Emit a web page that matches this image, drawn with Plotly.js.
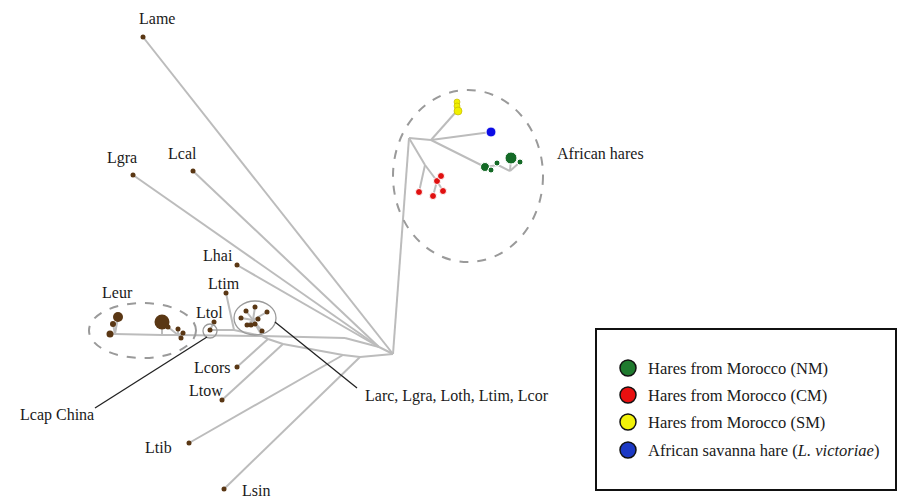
<!DOCTYPE html>
<html>
<head>
<meta charset="utf-8">
<script src="https://cdn.plot.ly/plotly-3.0.1.min.js"></script>
<style>html,body{margin:0;padding:0;background:#fff;}#chart{width:897px;height:498px;}</style>
</head>
<body>
<div id="chart"></div>
<script>
// ---- network nodes (layout coordinates) ----
const nodeNames = ["H","A","B","C","Rj","G1","Gj","Gk","J","P","Q","T","K","L1","L2","L3","R","E1","E2","E3","Yj",
  "Lame","Lgra","Lcal","Lhai","Ltim","Ltol","Lcap","Lcors","Ltow","Ltib","Lsin",
  "eu1","eu2","eu3","eu4","eu5","eu6","eu7","eu8",
  "la1","la2","la3","la4","la5","la6","la7","la8","la9",
  "y1","y2","y3","bl1","g2","g3","g4","g5","r2","r3","r4","r5"];
const nodeX = [393,409,431,425,437,485,498,510,379,345,262,234,253,283,343,360,268,115,162,178,455,
  143,133,193,237,226,214,210,237,222,189,224,
  110,118,113,162,168,178,183,181,
  241,246,255,267,247,251,255,258,262,
  457,457,458,491,491,497,511,520,441,443,433,419];
const nodeY = [354,138,140,165,181,167,165,171,347,338,336,330,320,344,355,357,339,334,335,335,113,
  37,175,171,265,293,322,330,367,400,443,489,
  334,317,324,322,327,329,333,338,
  318,311,307,312,325,325,324,319,331,
  102,106,111,132,170,163,158,162,176,191,196,192];

// ---- edges ----
const edgeFrom = ["H","A","B","Yj","Yj","Yj","B","B","G1","G1","Gj","Gj","Gk","Gk","A","C","C","Rj","Rj","Rj",
  "H","J","P","Q","E3","E2","T","Lcap","Ltim","K","Q","R","L1","L2","L3",
  "Lcors","Ltow","Ltib","Lsin","Lame","Lcal","Lgra","Lhai",
  "E1","E1","E1","E2","E3","E3","E3","E3",
  "K","K","K","K","K","K","K","K","K","Ltol"];
const edgeTo = ["A","B","Yj","y1","y2","y3","bl1","G1","g2","Gj","g3","Gk","g4","g5","C","Rj","r5","r2","r3","r4",
  "J","P","Q","E3","E2","E1","Q","T","T","Q","R","L1","L2","L3","H",
  "R","L1","L2","L3","H","J","J","J",
  "eu1","eu2","eu3","eu4","eu5","eu6","eu7","eu8",
  "la1","la2","la3","la4","la5","la6","la7","la8","la9","Lcap"];

// ---- sampled haplotypes (dots) ----
const dotNodes = ["Lame","Lgra","Lcal","Lhai","Ltim","Ltol","Lcap","Lcors","Ltow","Ltib","Lsin",
  "eu1","eu2","eu3","eu4","eu5","eu6","eu7","eu8",
  "la1","la2","la3","la4","la5","la6","la7","la8","la9"];
const dotSizes = [5,5,5,5,5,5,5,5,5,5,5, 7,10,6,15,5,5,5,5, 5,5,5,5,5,5,5,5,5];
const nmNodes = ["G1","g2","g3","g4","g5"], nmSizes = [9,6,6,12,6];
const cmNodes = ["Rj","r2","r3","r4","r5"], cmSizes = [7,7,7,7,7];
const smNodes = ["y1","y2","y3"], smSizes = [6,6,8];
const lvNodes = ["bl1"], lvSizes = [10];

// ---- labels ----
const taxaLabels = ["Lame","Lgra","Lcal","Lhai","Ltim","Ltol","Leur","Lcors","Ltow","Ltib","Lsin"];
const taxaLabelX = [157,122,182,218,224,209,117,212,206,158,256];
const taxaLabelY = [18,158,153,255,283,312,292,367,390,447,490];

const legendNames = ["Hares from Morocco (NM)","Hares from Morocco (CM)","Hares from Morocco (SM)","African savanna hare (<i>L. victoriae</i>)"];
const legendColors = ["#1f7a2e","#e81010","#f2f20a","#1c39c4"];
const legendY = [368,395,422,450];

const idx = {}; nodeNames.forEach((n,i)=>idx[n]=i);
const ex=[], ey=[];
for (let i=0;i<edgeFrom.length;i++){
  const a=idx[edgeFrom[i]], b=idx[edgeTo[i]];
  ex.push(nodeX[a],nodeX[b],null); ey.push(nodeY[a],nodeY[b],null);
}
const px = arr => arr.map(n=>nodeX[idx[n]]);
const py = arr => arr.map(n=>nodeY[idx[n]]);

const traces = [
  {type:'scatter',mode:'lines',x:ex,y:ey,line:{color:'#bcbcbc',width:2},hoverinfo:'skip',showlegend:false},
  {type:'scatter',mode:'markers',x:px(dotNodes),y:py(dotNodes),marker:{color:'#5a3714',opacity:1,size:dotSizes,line:{width:0}},showlegend:false},
  {type:'scatter',mode:'markers',x:px(nmNodes),y:py(nmNodes),marker:{color:'#146a26',opacity:1,size:nmSizes},showlegend:false},
  {type:'scatter',mode:'markers',x:px(cmNodes),y:py(cmNodes),marker:{color:'#e01010',opacity:1,size:cmSizes},showlegend:false},
  {type:'scatter',mode:'markers',x:px(smNodes),y:py(smNodes),marker:{color:'#f0f000',opacity:1,size:smSizes,line:{color:'#c0b000',width:0.6}},showlegend:false},
  {type:'scatter',mode:'markers',x:px(lvNodes),y:py(lvNodes),marker:{color:'#0c0ce6',opacity:1,size:lvSizes},showlegend:false},
  {type:'scatter',mode:'markers',x:legendY.map(()=>628),y:legendY,marker:{color:legendColors,opacity:1,size:16,line:{color:'#111',width:1.5}},showlegend:false}
];

const font = "'Liberation Serif', 'Times New Roman', Times, serif";
const annotations = taxaLabels.map((t,i)=>({x:taxaLabelX[i],y:taxaLabelY[i],text:t,showarrow:false,xanchor:'center',yanchor:'middle',font:{family:font,size:16,color:'#1a1a1a'}}));
annotations.push({x:555,y:153,text:"African hares",showarrow:false,xanchor:'left',yanchor:'middle',font:{family:font,size:16,color:'#1a1a1a'}});
annotations.push({x:363,y:396,text:"Larc, Lgra, Loth, Ltim, Lcor",showarrow:false,xanchor:'left',yanchor:'middle',font:{family:font,size:16,color:'#1a1a1a'}});
annotations.push({x:57,y:415,text:"Lcap China",showarrow:false,xanchor:'center',yanchor:'middle',font:{family:font,size:16,color:'#1a1a1a'}});
legendNames.forEach((t,i)=>annotations.push({x:646,y:legendY[i],text:t,showarrow:false,xanchor:'left',yanchor:'middle',font:{family:font,size:16.5,color:'#1a1a1a'}}));

const shapes = [
  {type:'circle',xref:'x',yref:'y',x0:393,x1:543,y0:90,y1:262,line:{color:'#9a9a9a',width:2,dash:'dash'}},
  {type:'circle',xref:'x',yref:'y',x0:89,x1:196,y0:303,y1:358,line:{color:'#9a9a9a',width:2,dash:'dash'}},
  {type:'circle',xref:'x',yref:'y',x0:203,x1:217,y0:324,y1:338,line:{color:'#9a9a9a',width:1.3}},
  {type:'circle',xref:'x',yref:'y',x0:234,x1:276,y0:301,y1:335,line:{color:'#9a9a9a',width:1.3}},
  {type:'line',xref:'x',yref:'y',x0:275,y0:322,x1:357,y1:388,line:{color:'#222',width:1.3}},
  {type:'line',xref:'x',yref:'y',x0:207,y0:337,x1:95,y1:408,line:{color:'#222',width:1.3}},
  {type:'rect',xref:'x',yref:'y',x0:596,x1:896,y0:329,y1:490,line:{color:'#111',width:2}}
];

const layout = {
  width:897,height:498,margin:{l:0,r:0,t:0,b:0},
  paper_bgcolor:'#fff',plot_bgcolor:'#fff',showlegend:false,
  xaxis:{range:[0,897],visible:false,fixedrange:true},
  yaxis:{range:[498,0],visible:false,fixedrange:true},
  shapes:shapes,annotations:annotations
};
Plotly.newPlot('chart',traces,layout,{displayModeBar:false,staticPlot:true});
</script>
</body>
</html>
